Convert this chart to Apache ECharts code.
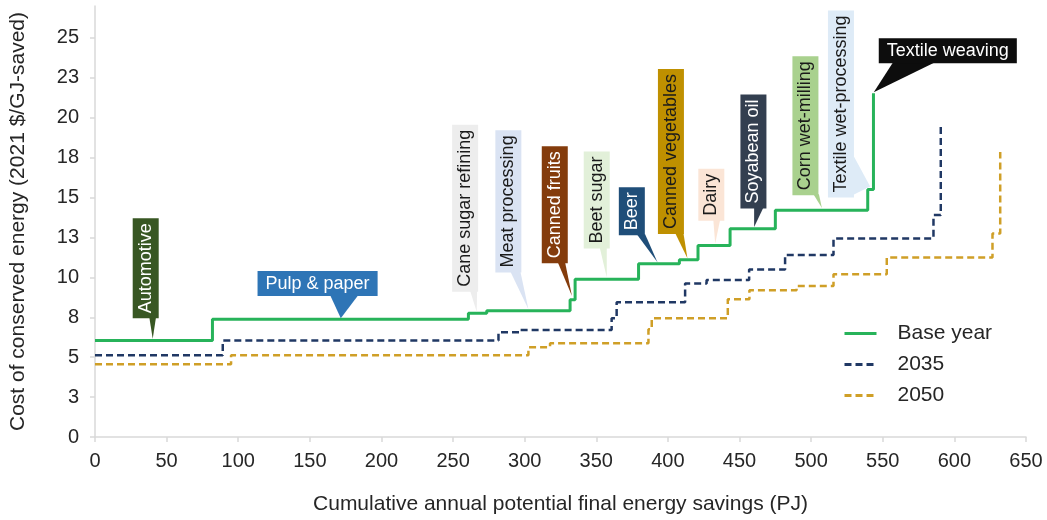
<!DOCTYPE html>
<html>
<head>
<meta charset="utf-8">
<title>Cost of conserved energy supply curve</title>
<script src="https://cdn.jsdelivr.net/npm/echarts@6/dist/echarts.min.js"></script>
<style>
  html, body { margin: 0; padding: 0; background: #ffffff; }
  #chart { width: 1047px; height: 520px; }
</style>
</head>
<body>
<div id="chart"></div>
<script>
const FONT = "'Liberation Sans', Arial, Helvetica, sans-serif";

// Step curves: cumulative savings (PJ) where each step begins, and its cost ($/GJ-saved)
const baseSavings = [0, 82, 260.7, 273.5, 331.7, 335.2, 379.5, 408, 421, 443.4, 475, 539.5, 543.5];
const baseCost    = [6.04, 7.37, 7.75, 7.91, 8.6, 9.88, 10.86, 11.1, 12.0, 13.04, 14.2, 15.5, 21.54];

const savings2035 = [0, 89.2, 281.7, 296.8, 360.7, 364.2, 412, 427, 456.7, 481.8, 515.6, 585.4, 590.5];
const cost2035    = [5.12, 6.04, 6.56, 6.71, 7.44, 8.44, 9.62, 9.83, 10.5, 11.4, 12.44, 13.9, 19.46];

const savings2050 = [0, 95, 302.6, 317.7, 386.4, 388.7, 441.8, 456.9, 489.8, 515.6, 552.8, 626.6, 632];
const cost2050    = [4.56, 5.12, 5.62, 5.87, 6.75, 7.44, 8.63, 9.2, 9.46, 10.19, 11.25, 12.75, 17.85];

const yTicks = [0, 2.5, 5, 7.5, 10, 12.5, 15, 17.5, 20, 22.5, 25];

// Industries labelled on the base-year curve and the point each callout refers to
const industries = [
  'Automotive', 'Pulp & paper', 'Cane sugar refining', 'Meat processing', 'Canned fruits',
  'Beet sugar', 'Beer', 'Canned vegetables', 'Dairy', 'Soyabean oil', 'Corn wet-milling',
  'Textile wet-processing', 'Textile weaving'
];
const industrySavings = [40.3, 171.6, 266.5, 302.6, 333, 357.3, 392.7, 413.6, 433, 460.2, 507.5, 541.2, 543.7];
const industryCost    = [6.15, 7.44, 7.85, 8.0, 8.83, 10.0, 10.95, 11.2, 12.1, 13.15, 14.35, 15.7, 21.6];

// Callout appearance: fill, text colour, orientation, box anchor (bottom centre, data units)
// and the two base points of the pointer (pixel offsets from the box anchor)
const calloutStyle = {
  'Automotive':             { fill: '#385723', color: '#ffffff', vertical: true,  box: [35.4, 7.44],  base: [[3.6, 0], [10.3, 0]] },
  'Pulp & paper':           { fill: '#2e75b6', color: '#ffffff', vertical: false, box: [155.4, 8.83], base: [[12.5, 0], [40.8, 0]] },
  'Cane sugar refining':    { fill: '#ededed', color: '#1a1a1a', vertical: true,  box: [258.4, 9.1],  base: [[5, 0], [12, 0]] },
  'Meat processing':        { fill: '#dae3f3', color: '#1a1a1a', vertical: true,  box: [288.6, 10.31], base: [[2, 0], [12, 0]] },
  'Canned fruits':          { fill: '#843c0c', color: '#ffffff', vertical: true,  box: [321, 10.88],  base: [[3, 0], [10.3, 0]] },
  'Beet sugar':             { fill: '#e2f0d9', color: '#1a1a1a', vertical: true,  box: [350.3, 11.81], base: [[3, 0], [10, 0]] },
  'Beer':                   { fill: '#1f4e79', color: '#ffffff', vertical: true,  box: [374.8, 12.64], base: [[5, 0], [13.3, 0]] },
  'Canned vegetables':      { fill: '#bf9000', color: '#1a1a1a', vertical: true,  box: [402.1, 12.71], base: [[4.2, 0], [12.5, 0]] },
  'Dairy':                  { fill: '#fbe5d6', color: '#1a1a1a', vertical: true,  box: [430.3, 13.54], base: [[2, 0], [8.8, 0]] },
  'Soyabean oil':           { fill: '#333f50', color: '#ffffff', vertical: true,  box: [459.7, 14.31], base: [[0.7, 0], [10, 0]] },
  'Corn wet-milling':       { fill: '#a9d18e', color: '#1a1a1a', vertical: true,  box: [496, 15.14],  base: [[8, 0], [13.5, 0]] },
  'Textile wet-processing': { fill: '#deebf7', color: '#1a1a1a', vertical: true,  box: [520.8, 15.0],  base: [[13, -40], [9, 0]] },
  'Textile weaving':        { fill: '#0d0d0d', color: '#ffffff', vertical: false, box: [595.4, 23.41], base: [[-54.7, 0], [-12.7, 0]] }
};

const CALLOUT_FONT = '18px ' + FONT;
const measureCtx = document.createElement('canvas').getContext('2d');
function textWidth(str) {
  measureCtx.font = CALLOUT_FONT;
  return measureCtx.measureText(str).width;
}

function toPoints(xs, ys) {
  return xs.map((x, i) => [x, ys[i]]);
}

function renderCallout(params, api) {
  const name = industries[params.dataIndex];
  const s = calloutStyle[name];
  const tip = api.coord([api.value(0), api.value(1)]);
  const a = api.coord(s.box);
  const tw = textWidth(name);
  const thick = 26;
  const w = s.vertical ? thick : tw + 16;
  const h = s.vertical ? tw + 10 : thick - 1;
  const pts = s.base.map(p => [a[0] + p[0], a[1] + p[1] - 1]);
  pts.push(tip);
  return {
    type: 'group',
    children: [
      { type: 'polygon', shape: { points: pts }, style: { fill: s.fill } },
      { type: 'rect', shape: { x: a[0] - w / 2, y: a[1] - h, width: w, height: h }, style: { fill: s.fill } },
      {
        type: 'text', x: a[0], y: a[1] - h / 2, rotation: s.vertical ? Math.PI / 2 : 0,
        style: { text: name, fill: s.color, font: CALLOUT_FONT, align: 'center', verticalAlign: 'middle' }
      }
    ]
  };
}

const chart = echarts.init(document.getElementById('chart'), null, { renderer: 'canvas' });

const axisGrey = '#d9d9d9';
const labelColor = '#262626';

chart.setOption({
  animation: false,
  backgroundColor: '#ffffff',
  grid: { left: 95, right: 21, top: 6, bottom: 83, containLabel: false, outerBoundsMode: 'none' },
  xAxis: {
    type: 'value', min: 0, max: 650, interval: 50,
    name: 'Cumulative annual potential final energy savings (PJ)',
    nameLocation: 'middle', nameGap: 57,
    nameTextStyle: { fontFamily: FONT, fontSize: 21, color: labelColor },
    axisLine: { show: true, lineStyle: { color: axisGrey, width: 1.5 } },
    axisTick: { show: true, length: 5, lineStyle: { color: axisGrey, width: 1.5 } },
    axisLabel: { fontFamily: FONT, fontSize: 20, color: labelColor, margin: 14 },
    splitLine: { show: false }
  },
  yAxis: {
    type: 'value', min: 0, max: 27, interval: 2.5,
    name: 'Cost of conserved energy (2021 $/GJ-saved)',
    nameLocation: 'middle', nameGap: 66, nameRotate: 90,
    nameTextStyle: { fontFamily: FONT, fontSize: 21, color: labelColor },
    axisLine: { show: true, lineStyle: { color: axisGrey, width: 1.5 } },
    axisTick: { show: true, length: 5, customValues: yTicks, lineStyle: { color: axisGrey, width: 1.5 } },
    axisLabel: {
      fontFamily: FONT, fontSize: 20, color: labelColor, margin: 16,
      customValues: yTicks,
      formatter: v => String(Math.round(v))
    },
    splitLine: { show: false }
  },
  legend: {
    orient: 'vertical', left: 838, top: 318,
    itemWidth: 32, itemHeight: 12, itemGap: 10,
    data: ['Base year', '2035', '2050'],
    itemStyle: { opacity: 0 },
    lineStyle: { width: 3 },
    textStyle: { fontFamily: FONT, fontSize: 21, color: labelColor, padding: [0, 0, 0, 16] }
  },
  series: [
    {
      name: 'Base year', type: 'line', step: 'end', symbol: 'none', z: 4,
      data: toPoints(baseSavings, baseCost),
      lineStyle: { color: '#27b35a', width: 3 },
      itemStyle: { color: '#27b35a' }
    },
    {
      name: '2035', type: 'line', step: 'end', symbol: 'none', z: 3,
      data: toPoints(savings2035, cost2035),
      lineStyle: { color: '#203864', width: 2.5, type: [7, 4] },
      itemStyle: { color: '#203864' }
    },
    {
      name: '2050', type: 'line', step: 'end', symbol: 'none', z: 3,
      data: toPoints(savings2050, cost2050),
      lineStyle: { color: '#cf9f27', width: 2.5, type: [7, 4] },
      itemStyle: { color: '#cf9f27' }
    },
    {
      name: 'Industries', type: 'custom', coordinateSystem: 'cartesian2d', z: 5,
      silent: true, clip: false,
      data: industries.map((n, i) => [industrySavings[i], industryCost[i]]),
      renderItem: renderCallout
    }
  ]
});
</script>
</body>
</html>
